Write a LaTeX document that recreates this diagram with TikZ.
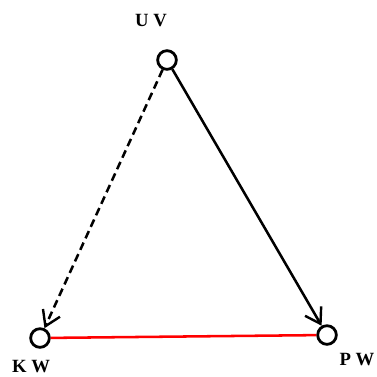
\documentclass[tikz,border=0pt]{standalone}
\usepackage{fontspec}
\setmainfont{Liberation Serif}
\usetikzlibrary{arrows.meta}
\tikzset{
  vert/.style   ={circle,draw=black,line width=2.1pt,fill=white,minimum size=14pt,inner sep=0pt},
  vlbl/.style   ={font=\fontsize{14}{16}\selectfont\bfseries,text=black},
  edge/.style   ={-{Straight Barb[length=11pt,width=14pt,line width=1.8pt]},black,line width=1.9pt},
  edgedash/.style={edge,dash pattern=on 6pt off 3.5pt},
  plain/.style  ={red,line width=1.9pt},
}
\begin{document}
\begin{tikzpicture}[x=0.75pt,y=-0.75pt]
\useasboundingbox (0,0) rectangle (377,376);
\node[vert] (uv) at (167,60) {};
\node[vert] (kw) at (40,338) {};
\node[vert] (pw) at (327,335) {};
\node[vlbl] (luv) at (151,21) {U V};
\node[vlbl] (lkw) at (31,367) {K W};
\node[vlbl] (lpw) at (357,360) {P W};
% edges
\draw[plain] (kw) -- (pw);
\draw[edge] (uv) -- (pw);
\draw[edgedash] (uv) -- (kw);
\end{tikzpicture}
\end{document}
